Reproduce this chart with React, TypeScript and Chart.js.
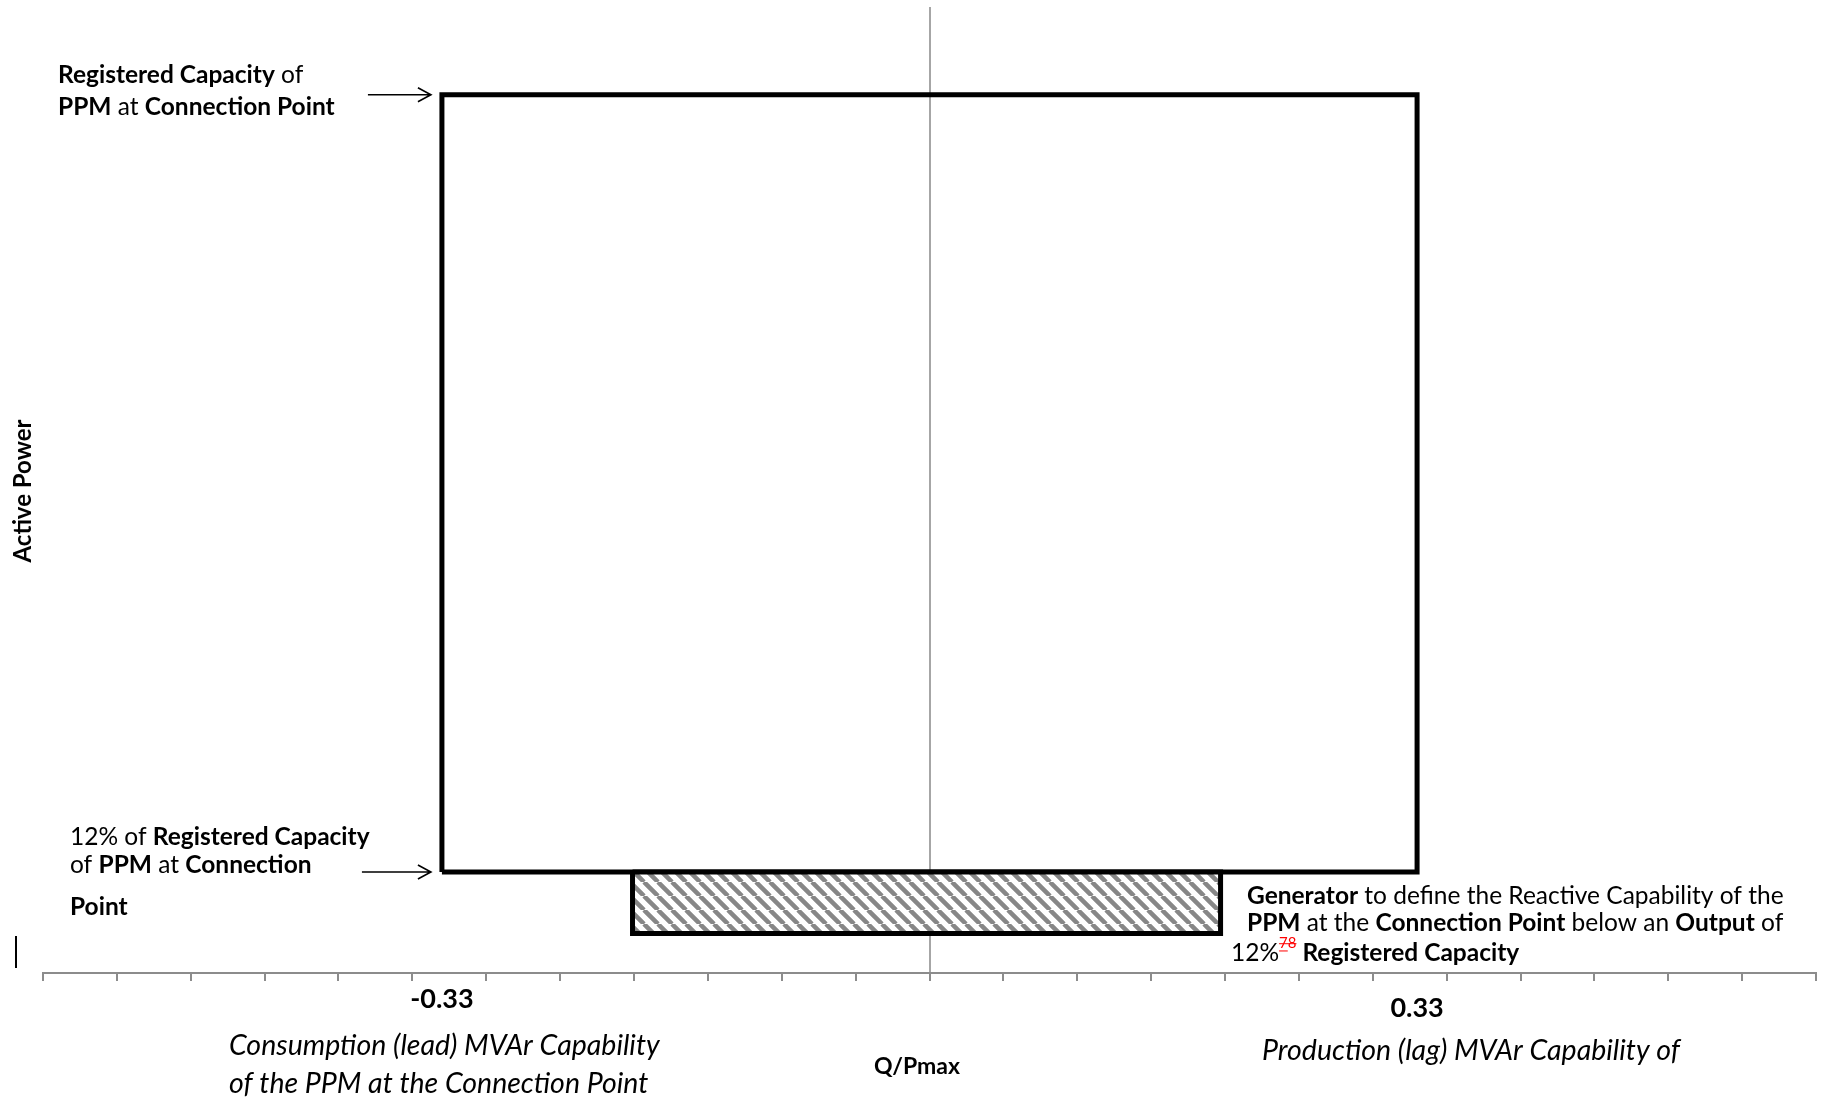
import React, { useEffect, useRef } from "react";
import { Chart, registerables } from "chart.js";

Chart.register(...registerables);

// ---- data ----
const xMin = -0.6;
const xMax = 0.6;
const yMin = 0;
const yMax = 1.1;
const tickStep = 0.05;
const labeledTicks = [-0.33, 0.33];

// outer capability boundary (Q/Pmax, Active Power p.u.)
const capabilityX = [-0.33, -0.33, 0.33, 0.33, -0.33];
const capabilityY = [0.115, 1.0, 1.0, 0.115, 0.115];

// hatched region below 12% output (generator defined)
const hatchX = [-0.201, -0.201, 0.197, 0.197, -0.201];
const hatchY = [0.115, 0.045, 0.045, 0.115, 0.115];

const FONT = "Lato, 'Open Sans', sans-serif";
const BODY = 24.5;
const ITAL = 28.5;

type Seg = { t: string; b?: boolean; sup?: boolean };

function drawRich(ctx: CanvasRenderingContext2D, segs: Seg[], x: number, y: number, size: number, italic = false) {
  let cx = x;
  ctx.textBaseline = "middle";
  ctx.textAlign = "left";
  for (const s of segs) {
    if (s.sup) {
      const ss = Math.round(size * 0.6);
      ctx.font = `${ss}px ${FONT}`;
      ctx.fillStyle = "#ff0000";
      const w = ctx.measureText(s.t).width;
      const sy = y - size * 0.42;
      ctx.fillText(s.t, cx, sy);
      ctx.strokeStyle = "#ff0000";
      ctx.lineWidth = 1;
      ctx.beginPath();
      ctx.moveTo(cx, sy + 1);
      ctx.lineTo(cx + w, sy + 1);
      ctx.moveTo(cx, sy + ss * 0.55);
      ctx.lineTo(cx + w * 0.5, sy + ss * 0.55);
      ctx.stroke();
      cx += w;
      continue;
    }
    ctx.font = `${italic ? "italic " : ""}${s.b ? "bold " : ""}${size}px ${FONT}`;
    ctx.fillStyle = "#000";
    ctx.fillText(s.t, cx, y);
    cx += ctx.measureText(s.t).width;
  }
}

function drawArrow(ctx: CanvasRenderingContext2D, x1: number, x2: number, y: number) {
  ctx.save();
  ctx.strokeStyle = "#000";
  ctx.lineWidth = 1.6;
  ctx.beginPath();
  ctx.moveTo(x1, y);
  ctx.lineTo(x2, y);
  ctx.moveTo(x2 - 13, y - 7);
  ctx.lineTo(x2, y);
  ctx.lineTo(x2 - 13, y + 7);
  ctx.stroke();
  ctx.restore();
}

function makeHatch(): CanvasPattern | string {
  const s = 14;
  const c = document.createElement("canvas");
  c.width = s;
  c.height = s;
  const g = c.getContext("2d");
  if (!g) return "#ccc";
  g.fillStyle = "#ffffff";
  g.fillRect(0, 0, s, s);
  g.strokeStyle = "#878787";
  g.lineWidth = 4.5;
  g.beginPath();
  for (let k = -1; k <= 1; k++) {
    g.moveTo(k * s, 0);
    g.lineTo(k * s + s, s);
  }
  g.stroke();
  return g.createPattern(c, "repeat") || "#ccc";
}

const annotationPlugin = {
  id: "annotations",
  afterDraw(chart: any) {
    const ctx: CanvasRenderingContext2D = chart.ctx;
    const xs = chart.scales.x;
    const ys = chart.scales.y;
    const leftX = xs.getPixelForValue(capabilityX[0]);
    const topY = ys.getPixelForValue(capabilityY[1]);
    const lowY = ys.getPixelForValue(capabilityY[0]);
    ctx.save();

    // arrows
    drawArrow(ctx, leftX - 74, leftX - 11, topY);
    drawArrow(ctx, leftX - 80, leftX - 11, lowY);

    // block 1
    drawRich(ctx, [{ t: "Registered Capacity", b: true }, { t: " of" }], 58, 75, BODY);
    drawRich(ctx, [{ t: "PPM", b: true }, { t: " at " }, { t: "Connection Point", b: true }], 58, 107, BODY);

    // block 2
    drawRich(ctx, [{ t: "12% of " }, { t: "Registered Capacity", b: true }], 70, 837, BODY);
    drawRich(ctx, [{ t: "of " }, { t: "PPM", b: true }, { t: " at " }, { t: "Connection", b: true }], 70, 865, BODY);
    drawRich(ctx, [{ t: "Point", b: true }], 70, 907, BODY);

    // block 3
    drawRich(ctx, [{ t: "Generator", b: true }, { t: " to define the Reactive Capability of the" }], 1247, 896, BODY);
    drawRich(ctx, [{ t: "PPM", b: true }, { t: " at the " }, { t: "Connection Point", b: true }, { t: " below an " }, { t: "Output", b: true }, { t: " of" }], 1247, 923, BODY);
    drawRich(ctx, [{ t: "12%" }, { t: "78", sup: true }, { t: " Registered Capacity", b: true }], 1231, 953, BODY);

    // italic axis descriptions
    drawRich(ctx, [{ t: "Consumption (lead) MVAr Capability" }], 229, 1046, ITAL, true);
    drawRich(ctx, [{ t: "of the PPM at the Connection Point" }], 229, 1084, ITAL, true);
    drawRich(ctx, [{ t: "Production (lag) MVAr Capability of" }], 1262, 1051, ITAL, true);

    // axis titles
    ctx.fillStyle = "#000";
    ctx.font = `bold 23px ${FONT}`;
    ctx.textAlign = "center";
    ctx.textBaseline = "middle";
    ctx.fillText("Q/Pmax", 917, 1067);
    ctx.save();
    ctx.translate(23, 491);
    ctx.rotate(-Math.PI / 2);
    ctx.font = `bold 24px ${FONT}`;
    ctx.fillText("Active Power", 0, 0);
    ctx.restore();

    // stray cursor mark
    ctx.fillStyle = "#000";
    ctx.fillRect(15, 936, 2, 32);

    ctx.restore();
  },
};

export default function App() {
  const ref = useRef<HTMLCanvasElement | null>(null);

  useEffect(() => {
    if (!ref.current) return;
    const hatch = makeHatch();
    const chart = new Chart(ref.current, {
      type: "scatter",
      data: {
        datasets: [
          {
            label: "Generator defined region",
            data: hatchX.map((x, i) => ({ x, y: hatchY[i] })),
            showLine: true,
            fill: "shape",
            backgroundColor: hatch as any,
            borderColor: "#000",
            borderWidth: 5,
            pointRadius: 0,
            borderJoinStyle: "miter",
            tension: 0,
          } as any,
          {
            label: "Capability",
            data: capabilityX.map((x, i) => ({ x, y: capabilityY[i] })),
            showLine: true,
            fill: false,
            borderColor: "#000",
            borderWidth: 5,
            pointRadius: 0,
            borderJoinStyle: "miter",
            tension: 0,
          } as any,
        ],
      },
      options: {
        responsive: false,
        animation: false,
        devicePixelRatio: 1,
        layout: { padding: { left: 43, right: 9, top: 7, bottom: 0 } },
        plugins: {
          legend: { display: false },
          tooltip: { enabled: false },
          title: { display: false },
        },
        scales: {
          x: {
            type: "linear",
            min: xMin,
            max: xMax,
            afterBuildTicks: (scale: any) => {
              const t: { value: number }[] = [];
              const n = Math.round((xMax - xMin) / tickStep);
              for (let i = 0; i <= n; i++) t.push({ value: +(xMin + i * tickStep).toFixed(2) });
              labeledTicks.forEach((v) => t.push({ value: v }));
              t.sort((a, b) => a.value - b.value);
              scale.ticks = t;
            },
            afterFit: (scale: any) => {
              scale.height = 127;
            },
            border: { display: true, color: "#8c8c8c", width: 2 },
            grid: {
              display: true,
              drawOnChartArea: true,
              drawTicks: true,
              tickLength: 8,
              lineWidth: 2,
              tickWidth: 2,
              color: (c: any) => (c.tick && c.tick.value === 0 ? "#a6a6a6" : "rgba(0,0,0,0)"),
              tickColor: (c: any) => (c.tick && labeledTicks.includes(c.tick.value) ? "rgba(0,0,0,0)" : "#8c8c8c"),
            },
            ticks: {
              autoSkip: false,
              maxRotation: 0,
              padding: 2,
              color: "#000",
              font: (c: any) => ({
                family: FONT,
                size: 27,
                weight: "bold",
                lineHeight: c.tick && c.tick.value > 0 ? 1.85 : 1.2,
              }),
              callback: (v: any) => (labeledTicks.includes(v) ? Number(v).toFixed(2) : ""),
            },
          },
          y: {
            type: "linear",
            display: false,
            min: yMin,
            max: yMax,
          },
        },
      },
      plugins: [annotationPlugin],
    } as any);
    return () => chart.destroy();
  }, []);

  return (
    <div style={{ position: "fixed", left: 0, top: 0, width: 1825, height: 1100, background: "#fff" }}>
      <canvas ref={ref} width={1825} height={1100} />
    </div>
  );
}
